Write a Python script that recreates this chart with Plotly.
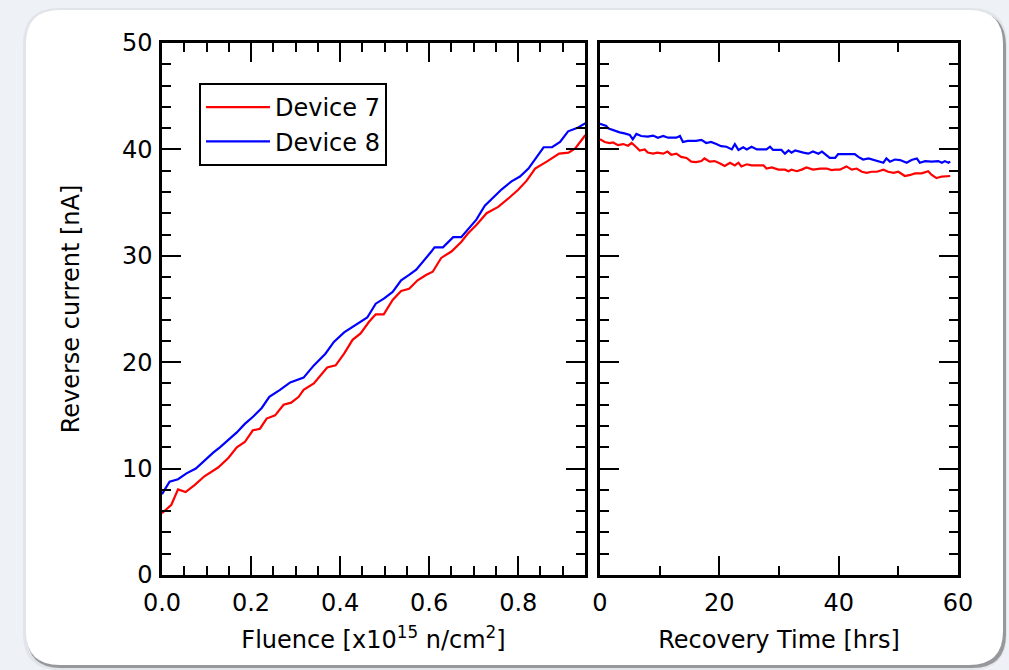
import plotly.graph_objects as go

# irradiation phase (left panel)
fluence_d7 = [0.0, 0.021, 0.036, 0.053, 0.073, 0.096, 0.126, 0.149, 0.168, 0.186, 0.204, 0.22, 0.235,
              0.254, 0.273, 0.29, 0.307, 0.318, 0.341, 0.371, 0.39, 0.409, 0.428, 0.446, 0.465, 0.48,
              0.498, 0.518, 0.537, 0.555, 0.574, 0.593, 0.608, 0.627, 0.65, 0.672, 0.687, 0.706, 0.729,
              0.755, 0.781, 0.8, 0.819, 0.838, 0.864, 0.892, 0.913, 0.928, 0.951]
current_d7 = [5.8, 6.6, 8.05, 7.8, 8.45, 9.3, 10.1, 11.0, 12.0, 12.5, 13.6, 13.75, 14.7,
              15.0, 16.0, 16.2, 16.75, 17.4, 18.0, 19.5, 19.7, 20.8, 22.1, 22.7, 23.8, 24.5,
              24.5, 25.85, 26.7, 26.9, 27.7, 28.2, 28.5, 29.8, 30.4, 31.3, 32.1, 32.9, 34.0,
              34.6, 35.5, 36.2, 37.06, 38.2, 38.85, 39.6, 39.7, 40.1, 41.35]

fluence_d8 = [0.0, 0.017, 0.036, 0.055, 0.076, 0.096, 0.115, 0.13, 0.149, 0.168, 0.186, 0.205, 0.224,
              0.241, 0.265, 0.288, 0.318, 0.341, 0.367, 0.386, 0.409, 0.435, 0.461, 0.48, 0.499, 0.518,
              0.537, 0.555, 0.571, 0.605, 0.612, 0.631, 0.654, 0.672, 0.691, 0.706, 0.725, 0.744, 0.763,
              0.785, 0.804, 0.823, 0.838, 0.857, 0.876, 0.894, 0.912, 0.932, 0.951]
current_d8 = [7.6, 8.77, 9.0, 9.55, 10.0, 10.8, 11.5, 12.0, 12.7, 13.4, 14.2, 14.9, 15.7,
              16.75, 17.4, 18.1, 18.55, 19.7, 20.8, 21.9, 22.8, 23.5, 24.2, 25.5, 26.0, 26.6,
              27.7, 28.2, 28.7, 30.4, 30.8, 30.8, 31.75, 31.75, 32.7, 33.4, 34.7, 35.5, 36.25,
              37.0, 37.45, 38.2, 39.1, 40.2, 40.2, 40.7, 41.7, 42.0, 42.45]

# recovery phase (right panel)
time_d7 = [0.0, 0.8, 1.6, 2.2, 3.0, 3.9, 4.7, 5.3, 6.1, 6.65, 7.5, 8.0, 8.9, 9.6, 10.6, 11.3, 11.95,
           12.8, 13.6, 14.5, 15.3, 16.1, 17.0, 17.5, 18.4, 19.2, 20.05, 20.9, 21.8, 22.6, 23.2, 23.7,
           24.6, 25.4, 27.4, 27.9, 28.8, 29.9, 31.0, 31.6, 32.1, 33.0, 33.8, 34.6, 35.7, 36.9, 38.0,
           38.8, 39.4, 40.2, 41.3, 42.2, 43.0, 43.9, 44.7, 45.5, 46.4, 47.5, 48.3, 49.2, 50.0, 51.1,
           52.0, 52.8, 53.9, 55.0, 55.6, 56.4, 57.3, 58.1, 58.7]
recov_d7 = [40.95, 40.7, 40.6, 40.65, 40.4, 40.5, 40.35, 40.6, 40.2, 39.9, 40.0, 39.7, 39.6, 39.7,
            39.6, 39.8, 39.5, 39.6, 39.3, 39.2, 38.85, 38.8, 38.9, 39.15, 38.85, 38.9, 38.7, 38.45,
            38.75, 38.5, 38.75, 38.4, 38.6, 38.5, 38.5, 38.2, 38.3, 38.1, 38.1, 37.95, 38.1, 37.95,
            38.1, 38.3, 38.1, 38.2, 38.2, 38.05, 38.1, 38.1, 38.4, 38.1, 38.2, 37.9, 37.8, 37.9,
            37.9, 38.1, 37.9, 37.8, 37.9, 37.5, 37.6, 37.75, 37.75, 37.95, 37.6, 37.3, 37.45,
            37.45, 37.5]

time_d8 = [0.0, 1.06, 1.35, 2.2, 3.3, 4.1, 5.0, 5.5, 6.1, 6.9, 8.0, 8.9, 9.7, 10.6, 11.4, 12.8, 13.4,
           13.9, 14.7, 16.1, 17.0, 17.8, 18.6, 19.5, 20.3, 21.2, 22.1, 22.6, 23.2, 24.0, 24.6, 25.4,
           26.3, 27.9, 28.5, 29.0, 30.4, 31.0, 31.6, 32.1, 32.7, 34.1, 34.9, 35.7, 36.6, 37.2, 37.7,
           38.5, 39.4, 39.9, 41.1, 42.7, 43.3, 44.1, 45.0, 45.8, 46.6, 47.5, 48.0, 48.6, 49.4, 50.3,
           51.4, 52.2, 53.1, 53.6, 54.5, 55.6, 56.7, 57.3, 57.8, 58.4, 58.7]
recov_d8 = [42.4, 42.2, 41.98, 41.8, 41.6, 41.5, 41.35, 40.95, 41.45, 41.26, 41.2, 41.3, 41.1, 41.26,
            41.1, 41.1, 41.26, 40.7, 40.8, 40.8, 40.9, 40.6, 40.7, 40.5, 40.3, 40.25, 40.0, 40.5,
            39.95, 40.2, 40.0, 40.25, 40.0, 40.0, 40.25, 39.95, 39.95, 39.6, 39.9, 39.7, 39.9, 39.7,
            39.6, 39.8, 39.6, 39.8, 39.6, 39.2, 39.2, 39.55, 39.55, 39.55, 39.3, 39.05, 39.15, 39.0,
            38.9, 38.75, 39.15, 38.85, 39.05, 39.0, 38.75, 39.0, 39.15, 38.75, 38.9, 38.85, 38.9,
            38.75, 38.9, 38.75, 38.85]

FONT = "DejaVu Sans"
L, R, T, B = 162, 51, 43, 95
W, H = 1009, 670
pw, ph = W - L - R, H - T - B


def px(x, y):
    # pixel -> paper coords
    return (x - L) / pw, (H - B - y) / ph


def rrect(x0, y0, x1, y1, r):
    pts = [("M", x0 + r, y0), ("L", x1 - r, y0), ("Q", x1, y0, x1, y0 + r), ("L", x1, y1 - r),
           ("Q", x1, y1, x1 - r, y1), ("L", x0 + r, y1), ("Q", x0, y1, x0, y1 - r),
           ("L", x0, y0 + r), ("Q", x0, y0, x0 + r, y0)]
    s = ""
    for p in pts:
        cmd, nums = p[0], p[1:]
        coords = []
        for i in range(0, len(nums), 2):
            a, b = px(nums[i], nums[i + 1])
            coords.append(f"{a:.5f},{b:.5f}")
        s += cmd + " ".join(coords) + " "
    return s + "Z"


fig = go.Figure()
fig.add_trace(go.Scatter(x=fluence_d7, y=current_d7, mode="lines", name="Device 7",
                         line=dict(color="#ff0000", width=2.2), xaxis="x", yaxis="y"))
fig.add_trace(go.Scatter(x=fluence_d8, y=current_d8, mode="lines", name="Device 8",
                         line=dict(color="#0000ff", width=2.2), xaxis="x", yaxis="y"))
fig.add_trace(go.Scatter(x=time_d7, y=recov_d7, mode="lines", showlegend=False,
                         line=dict(color="#ff0000", width=2.2), xaxis="x2", yaxis="y2"))
fig.add_trace(go.Scatter(x=time_d8, y=recov_d8, mode="lines", showlegend=False,
                         line=dict(color="#0000ff", width=2.2), xaxis="x2", yaxis="y2"))

ax = dict(showline=True, linecolor="black", linewidth=2.5, mirror="ticks", ticks="inside",
          ticklen=19, tickwidth=2, tickcolor="black", showgrid=False, zeroline=False,
          tickfont=dict(family=FONT, size=24, color="black"))

d1 = (585 - L) / pw
d2 = (600 - L) / pw

fig.update_layout(
    width=W, height=H,
    margin=dict(l=L, r=R, t=T, b=B),
    paper_bgcolor="#eef2f7",
    plot_bgcolor="white",
    font=dict(family=FONT, size=24, color="black"),
    xaxis=dict(ax, domain=[0, d1], range=[0, 0.95], dtick=0.2, tickformat=".1f", ticklabelstandoff=4,
               minor=dict(dtick=0.05, ticklen=9, tickwidth=2, ticks="inside", tickcolor="black"),
               title=dict(text="Fluence [x10<sup>15</sup> n/cm<sup>2</sup>]", standoff=16,
                          font=dict(family=FONT, size=24))),
    yaxis=dict(ax, domain=[0, 1], range=[0, 50], dtick=10, ticklabelstandoff=2,
               minor=dict(dtick=2, ticklen=9, tickwidth=2, ticks="inside", tickcolor="black"),
               title=dict(text="Reverse current [nA]", standoff=36, font=dict(family=FONT, size=24))),
    xaxis2=dict(ax, domain=[d2, 1], range=[0, 60], dtick=20, anchor="y2", ticklabelstandoff=4,
                minor=dict(dtick=10, ticklen=9, tickwidth=2, ticks="inside", tickcolor="black"),
                title=dict(text="Recovery Time [hrs]", standoff=16, font=dict(family=FONT, size=24))),
    yaxis2=dict(ax, domain=[0, 1], range=[0, 50], dtick=10, anchor="x2", showticklabels=False,
                minor=dict(dtick=2, ticklen=9, tickwidth=2, ticks="inside", tickcolor="black")),
    legend=dict(x=px(199, 0)[0], y=px(0, 83)[1], xanchor="left", yanchor="top",
                bgcolor="white", bordercolor="black", borderwidth=2, itemwidth=64,
                font=dict(family=FONT, size=24), tracegroupgap=0),
    shapes=[
        dict(type="path", xref="paper", yref="paper", layer="below",
             path=rrect(23, 8, 1007, 670, 36), fillcolor="rgba(0,0,0,0.05)", line=dict(width=0)),
        dict(type="path", xref="paper", yref="paper", layer="below",
             path=rrect(27, 12, 1006, 668, 34), fillcolor="rgba(90,90,90,0.55)", line=dict(width=0)),
        dict(type="path", xref="paper", yref="paper", layer="below",
             path=rrect(26, 10, 1003, 665, 34), fillcolor="white", line=dict(width=0)),
    ],
)

fig.write_html("out.html", config={"displayModeBar": False},
               post_script="document.body.style.margin='0';")
